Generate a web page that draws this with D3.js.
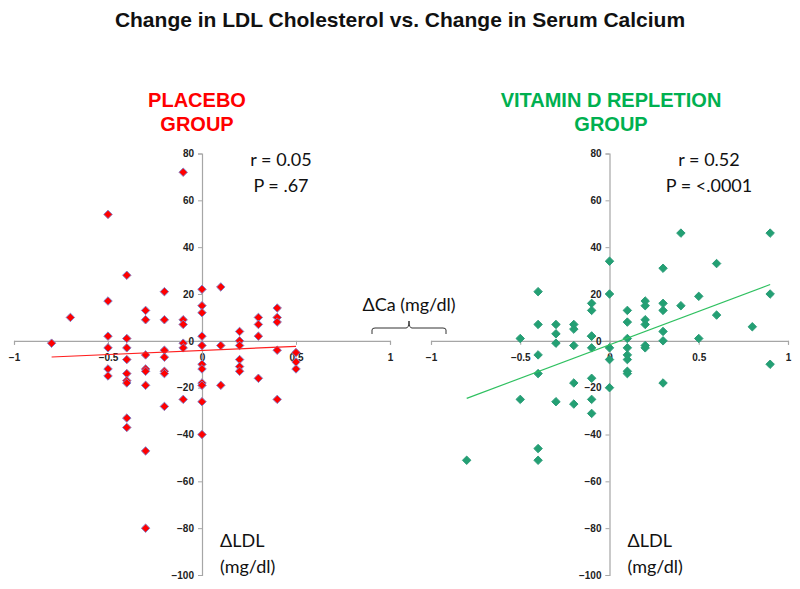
<!DOCTYPE html>
<html>
<head>
<meta charset="utf-8">
<script src="https://cdn.jsdelivr.net/npm/d3@7"></script>
<style>
  html, body { margin: 0; padding: 0; background: #fff; }
  svg { display: block; }
</style>
</head>
<body>
<svg id="chart" width="800" height="589"></svg>
<script>
// ---- Data (ΔCa mg/dl, ΔLDL mg/dl) ----
const placeboCa = [-0.1,-0.5,-0.4,-0.5,-0.7,-0.3,-0.3,-0.2,-0.2,-0.1,-0.1,0,0,0,0.1,0.2,0.3,0.3,0.4,0.4,0.4,
  -0.5,-0.4,0,0.3,-0.8,-0.5,-0.5,-0.5,-0.4,-0.4,-0.4,-0.4,-0.4,-0.4,-0.4,-0.3,-0.3,-0.3,-0.3,-0.3,-0.3,
  -0.2,-0.2,-0.2,-0.2,-0.2,-0.1,-0.1,-0.1,0,0,0,0,0,0,0,0.1,0.1,0.2,0.2,0.2,0.2,0.2,0.3,0.4,0.4,0.5,0.5,0.5];
const placeboLDL = [72,54,28,17,10,13,9,21,9,9,7,22,15,12,23,4,10,7,14,10,8,
  2,1,2,2,-1,-3,-12,-15,-3,-8,-14,-17,-18,-33,-37,-6,-12,-13,-19,-47,-80,
  -4,-7,-13,-14,-28,-1,-3,-25,-2,-10,-12,-18,-19,-26,-40,-2,-19,0,-2,-8,-11,-13,-16,-25,-4,-12,-5,-9,-11];
// placebo trend slope then intercept, over min/max ΔCa
const placeboFit = [3.5, -4.1];

const vitDCa = [0.4,0.9,0,0,0.6,0.3,0.9,-0.4,0.5,0.4,0.6,0.8,0.2,0.2,0.2,0.2,0.3,0.3,0.3,0.1,0.1,0.1,
  -0.1,-0.1,-0.1,-0.4,-0.3,-0.3,-0.2,-0.2,-0.5,-0.3,-0.2,-0.1,-0.1,0,0,0,0.1,0.1,0.1,0.1,0.1,0.2,0.2,
  0.3,0.3,0.5,0.9,-0.4,-0.4,-0.2,-0.1,-0.1,-0.1,-0.5,-0.3,-0.2,-0.4,-0.4,-0.8];
const vitDLDL = [46,46,34,20,33,31,20,21,19,15,11,6,17,15,9,7,16,13,4,13,8,1,
  16,13,2,7,7,3,7,5,1,-1,-2,2,-3,-3,-8,-20,-3,-6,-8,-13,-14,-2,-3,
  0,-18,1,-10,-6,-14,-18,-16,-25,-31,-25,-26,-27,-46,-51,-51];
const vitDFit = [28.6, -1.7];

const xTicks = [-1, -0.5, 0, 0.5, 1];
const yTicks = [-100, -80, -60, -40, -20, 0, 20, 40, 60, 80];

const title = "Change in LDL Cholesterol vs. Change in Serum Calcium";

// ---- Drawing ----
const svg = d3.select("#chart");
const y = d3.scaleLinear().domain([-100, 80]).range([575, 153.5]);

const panels = [
  { ca: placeboCa, ldl: placeboLDL, fit: placeboFit, range: [14, 390],
    fill: "#ff0000", stroke: "#8080c8", line: "#ff2020",
    name: ["PLACEBO", "GROUP"], nameColor: "#ff0000", nameX: 197,
    stats: ["r = 0.05", "P = .67"], statsX: 281 },
  { ca: vitDCa, ldl: vitDLDL, fit: vitDFit, range: [431, 788],
    fill: "#23a073", stroke: "#2a9a78", line: "#2fc060",
    name: ["VITAMIN D REPLETION", "GROUP"], nameColor: "#00b050", nameX: 611,
    stats: ["r = 0.52", "P = <.0001"], statsX: 709 }
];

svg.append("text")
  .attr("x", 400).attr("y", 27)
  .attr("text-anchor", "middle")
  .style("font-family", "Liberation Sans, Arial, sans-serif")
  .style("font-weight", "bold").style("font-size", "21px")
  .attr("fill", "#111")
  .text(title);

const calibri = "Lato, 'Open Sans', sans-serif";

panels.forEach(p => {
  const x = d3.scaleLinear().domain([-1, 1]).range(p.range);
  const g = svg.append("g");

  // x axis (at y=0)
  const xAxis = d3.axisBottom(x).tickValues(xTicks).tickSize(4)
    .tickFormat(d => d3.format("")(d));
  const gx = g.append("g").attr("transform", `translate(0,${y(0)})`).call(xAxis);
  gx.select(".domain").attr("stroke", "#a6a6a6").attr("stroke-width", 1.2);
  gx.selectAll(".tick line").attr("stroke", "#a6a6a6");
  gx.selectAll(".tick text").attr("dy", "1.35em")
    .style("font-family", "Liberation Sans, Arial, sans-serif")
    .style("font-weight", "bold").style("font-size", "10px").attr("fill", "#222");

  // y axis (at x=0)
  const yAxis = d3.axisLeft(y).tickValues(yTicks).tickSize(4);
  const gy = g.append("g").attr("transform", `translate(${x(0)},0)`).call(yAxis);
  gy.select(".domain").attr("stroke", "#a6a6a6").attr("stroke-width", 1.2);
  gy.selectAll(".tick line").attr("stroke", "#a6a6a6");
  gy.selectAll(".tick text").attr("x", -8)
    .style("font-family", "Liberation Sans, Arial, sans-serif")
    .style("font-weight", "bold").style("font-size", "10px").attr("fill", "#222");

  // points
  const pts = p.ca.map((c, i) => [c, p.ldl[i]]);
  const sym = d3.symbol(d3.symbolSquare, 36);
  g.append("g").selectAll("path").data(pts).join("path")
    .attr("d", sym)
    .attr("transform", d => `translate(${x(d[0])},${y(d[1])}) rotate(45)`)
    .attr("fill", p.fill)
    .attr("stroke", p.stroke).attr("stroke-width", 0.9);

  // trend line
  const [x0, x1] = d3.extent(p.ca);
  const f = v => p.fit[0] * v + p.fit[1];
  g.append("line")
    .attr("x1", x(x0)).attr("y1", y(f(x0)))
    .attr("x2", x(x1)).attr("y2", y(f(x1)))
    .attr("stroke", p.line).attr("stroke-width", 1.2);

  // group name
  p.name.forEach((t, i) => {
    svg.append("text").attr("x", p.nameX).attr("y", 107 + i * 24)
      .attr("text-anchor", "middle")
      .style("font-family", "Liberation Sans, Arial, sans-serif")
      .style("font-weight", "bold").style("font-size", "20px")
      .attr("fill", p.nameColor).text(t);
  });

  // stats
  p.stats.forEach((t, i) => {
    svg.append("text").attr("x", p.statsX).attr("y", 166 + i * 26)
      .attr("text-anchor", "middle")
      .style("font-family", calibri).style("font-size", "18px")
      .attr("fill", "#111").text(t);
  });

  // y axis label
  ["\u0394LDL", "(mg/dl)"].forEach((t, i) => {
    svg.append("text").attr("x", x(0) + 18).attr("y", 547 + i * 26)
      .style("font-family", calibri).style("font-size", "18px")
      .attr("fill", "#111").text(t);
  });
});

// shared x label with brace
svg.append("text").attr("x", 409).attr("y", 311)
  .attr("text-anchor", "middle")
  .style("font-family", calibri).style("font-size", "18px")
  .attr("fill", "#111").text("\u0394Ca (mg/dl)");

const bl = 372, br = 446, bm = 409, bt = 321, bh = 328, bb = 334;
svg.append("path")
  .attr("d", `M${bl},${bb} L${bl},${bh + 2} Q${bl},${bh} ${bl + 3},${bh} L${bm - 3},${bh} Q${bm},${bh} ${bm},${bt}
              Q${bm},${bh} ${bm + 3},${bh} L${br - 3},${bh} Q${br},${bh} ${br},${bh + 2} L${br},${bb}`)
  .attr("fill", "none").attr("stroke", "#333").attr("stroke-width", 1);
</script>
</body>
</html>
